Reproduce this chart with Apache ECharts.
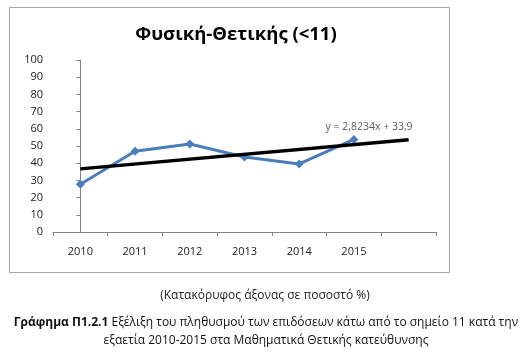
<!DOCTYPE html>
<html><head><meta charset="utf-8">
<script src="https://cdn.jsdelivr.net/npm/echarts@6/dist/echarts.min.js"></script>
<style>html,body{margin:0;padding:0;background:#fff}#c{width:520px;height:358px}</style>
</head><body><div id="c"></div>
<script>
const categories = ['2010','2011','2012','2013','2014','2015',''];
const values = [27.8, 47, 51.2, 43.6, 39.6, 53.8];
const trendStart = 36.7;  // value at 2010
const trendEnd = 53.7;    // value at the 7th category
const yTicks = [0,10,20,30,40,50,60,70,80,90,100];
const chartTitle = 'Φυσική-Θετικής (<11)';
const trendLabel = 'y = 2,8234x + 33,9';
const axisNote = '(Κατακόρυφος άξονας σε ποσοστό %)';
const captionBold = 'Γράφημα Π1.2.1';
const captionRest = ' Εξέλιξη του πληθυσμού των επιδόσεων κάτω από το σημείο 11 κατά την';
const captionLine2 = 'εξαετία 2010-2015 στα Μαθηματικά Θετικής κατεύθυνσης';

const font = '"Open Sans", "Noto Sans", sans-serif';
const chart = echarts.init(document.getElementById('c'), null, {renderer:'canvas'});
chart.setOption({
  animation:false,
  backgroundColor:'#fff',
  grid:{left:53, right:84, top:60, bottom:126},
  title:[
    {text:chartTitle, left:231, top:20, textAlign:'center',
     textStyle:{fontFamily:font, fontSize:18.5, fontWeight:'bold', color:'#000'}},
    {text:axisNote, left:260, top:285, textAlign:'center',
     textStyle:{fontFamily:font, fontSize:12, fontWeight:'normal', color:'#222'}},
    {text:'{b|'+captionBold+'}'+captionRest, left:261, top:312, textAlign:'center',
     textStyle:{fontFamily:font, fontSize:12, fontWeight:'normal', color:'#111',
       rich:{b:{fontFamily:font, fontSize:12, fontWeight:'bold', color:'#111'}}}},
    {text:captionLine2, left:261, top:330, textAlign:'center',
     textStyle:{fontFamily:font, fontSize:12, fontWeight:'normal', color:'#111'}}
  ],
  graphic:[
    {type:'rect', shape:{x:9.5, y:7.5, width:440, height:265},
     style:{fill:null, stroke:'#a6a6a6', lineWidth:1}, z:-1}
  ],
  xAxis:[
    {type:'category', data:categories, boundaryGap:true,
    axisLine:{lineStyle:{color:'#868686'}},
    axisTick:{show:true, length:4, lineStyle:{color:'#868686'}, alignWithLabel:false},
    axisLabel:{fontFamily:font, fontSize:11, color:'#222', margin:14}},
    {type:'value', min:-0.5, max:categories.length-0.5, show:false}
  ],
  yAxis:{type:'value', min:yTicks[0], max:yTicks[yTicks.length-1], interval:10,
    axisLine:{show:true, lineStyle:{color:'#868686'}},
    axisTick:{show:true, length:4, lineStyle:{color:'#868686'}},
    splitLine:{show:false},
    axisLabel:{fontFamily:font, fontSize:11, color:'#222', margin:10}},
  series:[
    {type:'line', data:values, symbol:'diamond', symbolSize:9,
     lineStyle:{color:'#4a7ebb', width:3}, itemStyle:{color:'#4a7ebb'}, z:2},
    {type:'line', data:[[0,trendStart],[categories.length-1,trendEnd]], symbol:'none',
     lineStyle:{color:'#000', width:3.5}, z:3},
    {type:'scatter', xAxisIndex:1, data:[[4.48,60.8]], symbolSize:0, silent:true,
     label:{show:true, formatter:trendLabel, position:'right', distance:0,
       fontFamily:font, fontSize:10.5, color:'#333'}}
  ]
});
</script></body></html>
